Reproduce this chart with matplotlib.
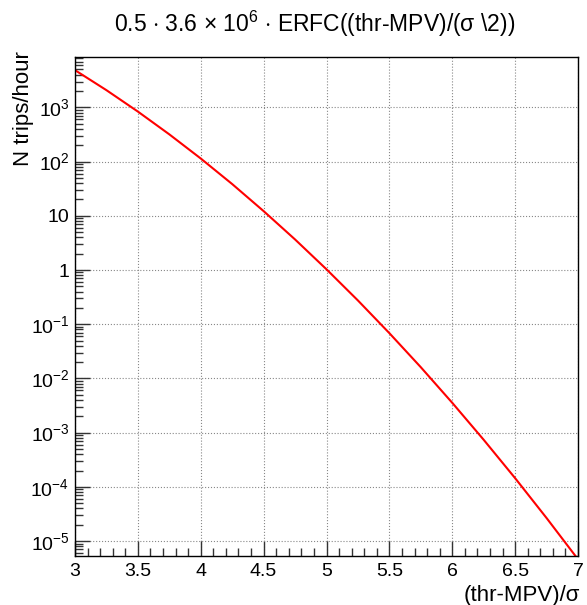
import matplotlib
matplotlib.use("Agg")
import matplotlib.pyplot as plt
from matplotlib.ticker import LogLocator, MultipleLocator, FixedLocator, FixedFormatter, NullFormatter

plt.rcParams['font.family'] = ['Liberation Sans', 'DejaVu Sans']
plt.rcParams['mathtext.fontset'] = 'custom'
plt.rcParams['mathtext.rm'] = 'Liberation Sans'
plt.rcParams['mathtext.it'] = 'Liberation Sans:italic'

# values
thr = [3.0, 3.25, 3.5, 3.75, 4.0, 4.25, 4.5, 4.75, 5.0, 5.25, 5.5, 5.75, 6.0, 6.25, 6.5, 6.75, 7.0]
rate = [4860, 2077, 837, 318, 114, 38.5, 12.2, 3.66, 1.03, 0.274, 0.0684, 0.0161,
        3.55e-3, 7.38e-4, 1.446e-4, 2.66e-5, 4.61e-6]

y_ticks = [1e-5, 1e-4, 1e-3, 1e-2, 1e-1, 1, 10, 1e2, 1e3]
y_labels = [r'$10^{-5}$', r'$10^{-4}$', r'$10^{-3}$', r'$10^{-2}$', r'$10^{-1}$',
            '1', '10', r'$10^{2}$', r'$10^{3}$']
x_ticks = [3, 3.5, 4, 4.5, 5, 5.5, 6, 6.5, 7]
x_labels = ['3', '3.5', '4', '4.5', '5', '5.5', '6', '6.5', '7']

fig = plt.figure(figsize=(5.87, 6.05), dpi=100)
ax = fig.add_axes([75 / 587, 49 / 605, 503 / 587, 499 / 605])

ax.plot(thr, rate, color='#ff0000', lw=1.5)
ax.set_yscale('log')
ax.set_xlim(3, 7)
ax.set_ylim(5.3e-6, 8.5e3)

ax.xaxis.set_major_locator(FixedLocator(x_ticks))
ax.xaxis.set_major_formatter(FixedFormatter(x_labels))
ax.xaxis.set_minor_locator(MultipleLocator(0.1))
ax.yaxis.set_major_locator(FixedLocator(y_ticks))
ax.yaxis.set_major_formatter(FixedFormatter(y_labels))
ax.yaxis.set_minor_locator(LogLocator(base=10, subs=range(2, 10), numticks=20))
ax.yaxis.set_minor_formatter(NullFormatter())

ax.tick_params(which='both', direction='in', top=False, right=False, labelsize=14, color='#333333')
ax.tick_params(which='major', length=11, width=1)
ax.tick_params(which='minor', length=6, width=1)
ax.tick_params(axis='x', pad=5)
ax.tick_params(axis='y', pad=4)
ax.grid(True, which='major', linestyle=':', color='#888888', lw=0.8)

for s in ax.spines.values():
    s.set_linewidth(1)

fig.text(315 / 587, 1 - 24 / 605, r'0.5 $\cdot$ 3.6 $\times$ 10$^{6}$ $\cdot$ ERFC((thr-MPV)/(σ \2))',
         ha='center', va='center', fontsize=16.5)
fig.text(23 / 587, 1 - 51 / 605, 'N trips/hour', rotation=90, ha='center', va='top', fontsize=16)
fig.text(580 / 587, 1 - 596 / 605, '(thr-MPV)/σ', ha='right', va='center', fontsize=16)

fig.savefig('out.png', dpi=100)
